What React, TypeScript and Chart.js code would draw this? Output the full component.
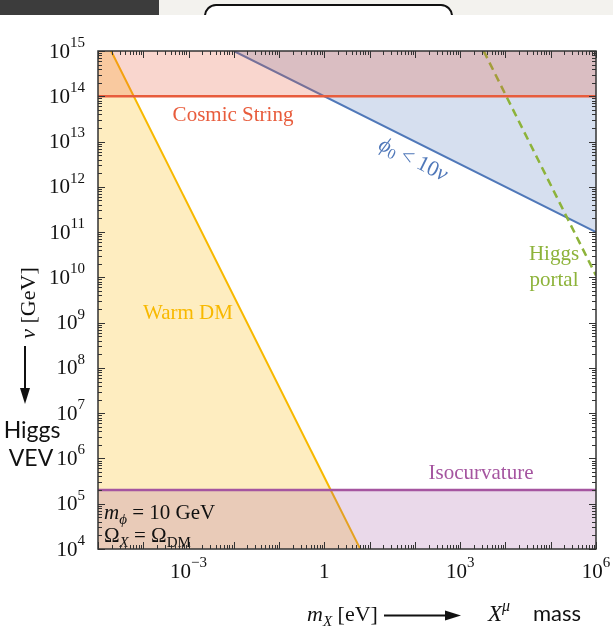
import React, { useEffect, useRef } from 'react';
import { Chart, registerables } from 'chart.js';

Chart.register(...registerables);

// ---- axis ranges & ticks ----
const X_MIN = 1e-5;
const X_MAX = 1e6;
const Y_MIN = 1e4;
const Y_MAX = 1e15;
const xTickValues = [1e-3, 1, 1e3, 1e6];
const xTickBase = ['10', '1', '10', '10'];
const xTickExp = ['−3', '', '3', '6'];
const yTickValues = [1e4, 1e5, 1e6, 1e7, 1e8, 1e9, 1e10, 1e11, 1e12, 1e13, 1e14, 1e15];
const yTickExp = ['4', '5', '6', '7', '8', '9', '10', '11', '12', '13', '14', '15'];

// ---- constraint curves (m_X [eV], v [GeV]) ----
const cosmicStringX = [1e-5, 1e6];
const cosmicStringY = [1e14, 1e14];
const phiBoundX = [1e-2, 1e6];
const phiBoundY = [1e15, 1e11];
const warmDmX = [1e-5, 6.2];
const warmDmY = [3.8e15, 1e4];
const isocurvX = [1e-5, 1e6];
const isocurvY = [2e5, 2e5];
const higgsPortalX = [3.3e3, 1e6];
const higgsPortalY = [1e15, 1.1e10];

const SERIF = '"Liberation Serif", "DejaVu Serif", serif';
const SANS = 'Lato, "Noto Sans", sans-serif';

const pts = (xs: number[], ys: number[]) => xs.map((x, i) => ({ x, y: ys[i] }));

type Seg = { t: string; font: string; dy?: number };

function measureRich(ctx: CanvasRenderingContext2D, segs: Seg[]) {
  let total = 0;
  for (const s of segs) {
    ctx.font = s.font;
    total += ctx.measureText(s.t).width;
  }
  return total;
}

function drawRich(ctx: CanvasRenderingContext2D, segs: Seg[], x: number, y: number, align: 'left' | 'center' | 'right' = 'left') {
  const total = measureRich(ctx, segs);
  let cx = align === 'center' ? x - total / 2 : align === 'right' ? x - total : x;
  ctx.textAlign = 'left';
  for (const s of segs) {
    ctx.font = s.font;
    ctx.fillText(s.t, cx, y + (s.dy || 0));
    cx += ctx.measureText(s.t).width;
  }
}

const powSegs = (base: string, exp: string): Seg[] => {
  const segs: Seg[] = [{ t: base, font: `21px ${SERIF}` }];
  if (exp) segs.push({ t: exp, font: `15px ${SERIF}`, dy: -9 });
  return segs;
};

const annotPlugin = {
  id: 'annot',
  afterDatasetsDraw(chart: any) {
    const ctx: CanvasRenderingContext2D = chart.ctx;
    ctx.save();
    ctx.textBaseline = 'middle';
    ctx.textAlign = 'center';
    ctx.font = `21px ${SERIF}`;
    ctx.fillStyle = 'rgb(232,92,60)';
    ctx.fillText('Cosmic String', 233, 115);
    ctx.fillStyle = 'rgb(248,185,0)';
    ctx.fillText('Warm DM', 188, 313);
    ctx.fillStyle = 'rgb(165,85,160)';
    ctx.fillText('Isocurvature', 481, 473);
    ctx.fillStyle = 'rgb(141,179,58)';
    ctx.fillText('Higgs', 554, 254);
    ctx.fillText('portal', 554, 280);

    // phi_0 < 10 v along blue line
    ctx.save();
    ctx.translate(413, 160);
    ctx.rotate(Math.atan2(182, 366));
    ctx.fillStyle = 'rgb(80,120,185)';
    ctx.textBaseline = 'middle';
    drawRich(ctx, [
      { t: 'ϕ', font: `italic 22px ${SERIF}` },
      { t: '0', font: `15px ${SERIF}`, dy: 5 },
      { t: ' < 10', font: `22px ${SERIF}` },
      { t: 'ν', font: `italic 22px ${SERIF}` },
    ], 0, 0, 'center');
    ctx.restore();

    // parameters
    ctx.fillStyle = '#111';
    ctx.textBaseline = 'alphabetic';
    drawRich(ctx, [
      { t: 'm', font: `italic 21px ${SERIF}` },
      { t: 'ϕ', font: `italic 15px ${SERIF}`, dy: 5 },
      { t: ' = 10 GeV', font: `21px ${SERIF}` },
    ], 104, 519);
    drawRich(ctx, [
      { t: 'Ω', font: `21px ${SERIF}` },
      { t: 'X', font: `italic 15px ${SERIF}`, dy: 5 },
      { t: ' = Ω', font: `21px ${SERIF}` },
      { t: 'DM', font: `15px ${SERIF}`, dy: 5 },
    ], 104, 542);
    ctx.restore();
  },
  afterDraw(chart: any) {
    const ctx: CanvasRenderingContext2D = chart.ctx;
    const { left, right, top, bottom } = chart.chartArea;
    const xs = chart.scales.x;
    const ys = chart.scales.y;
    ctx.save();
    ctx.strokeStyle = '#333';
    ctx.lineWidth = 1;
    ctx.beginPath();
    // frame ticks (top & bottom)
    for (let e = -5; e <= 6; e++) {
      for (let k = 1; k <= 9; k++) {
        const v = k * Math.pow(10, e);
        if (v > X_MAX * 1.0001) continue;
        const px = Math.round(xs.getPixelForValue(v)) + 0.5;
        const len = k === 1 ? 7 : 4;
        ctx.moveTo(px, bottom);
        ctx.lineTo(px, bottom - len);
        ctx.moveTo(px, top);
        ctx.lineTo(px, top + len);
      }
    }
    for (let e = 4; e <= 15; e++) {
      for (let k = 1; k <= 9; k++) {
        const v = k * Math.pow(10, e);
        if (v > Y_MAX * 1.0001) continue;
        const py = Math.round(ys.getPixelForValue(v)) + 0.5;
        const len = k === 1 ? 7 : 4;
        ctx.moveTo(left, py);
        ctx.lineTo(left + len, py);
        ctx.moveTo(right, py);
        ctx.lineTo(right - len, py);
      }
    }
    ctx.stroke();
    ctx.lineWidth = 1.5;
    ctx.strokeRect(left, top, right - left, bottom - top);

    // tick labels
    ctx.fillStyle = '#111';
    ctx.textBaseline = 'middle';
    yTickValues.forEach((v, i) => {
      const py = ys.getPixelForValue(v);
      drawRich(ctx, powSegs('10', yTickExp[i]), left - 13, py + 1, 'right');
    });
    xTickValues.forEach((v, i) => {
      const px = xs.getPixelForValue(v);
      drawRich(ctx, powSegs(xTickBase[i], xTickExp[i]), px, 572, 'center');
    });

    // y axis title
    ctx.fillStyle = '#111';
    ctx.strokeStyle = '#111';
    ctx.save();
    ctx.translate(29, 303);
    ctx.rotate(-Math.PI / 2);
    ctx.textBaseline = 'middle';
    drawRich(ctx, [
      { t: 'ν', font: `italic 22px ${SERIF}` },
      { t: ' [GeV]', font: `22px ${SERIF}` },
    ], 0, 0, 'center');
    ctx.restore();
    // down arrow
    ctx.lineWidth = 2;
    ctx.beginPath();
    ctx.moveTo(25, 346);
    ctx.lineTo(25, 392);
    ctx.stroke();
    ctx.beginPath();
    ctx.moveTo(25, 404);
    ctx.lineTo(20, 388);
    ctx.lineTo(30, 388);
    ctx.closePath();
    ctx.fill();
    ctx.textBaseline = 'alphabetic';
    ctx.textAlign = 'center';
    ctx.font = `23px ${SANS}`;
    ctx.fillText('Higgs', 32, 438);
    ctx.fillText('VEV', 31, 466);

    // x axis title
    drawRich(ctx, [
      { t: 'm', font: `italic 22px ${SERIF}` },
      { t: 'X', font: `italic 15px ${SERIF}`, dy: 5 },
      { t: ' [eV]', font: `22px ${SERIF}` },
    ], 307, 621);
    ctx.beginPath();
    ctx.moveTo(384, 615.5);
    ctx.lineTo(448, 615.5);
    ctx.stroke();
    ctx.beginPath();
    ctx.moveTo(461, 615.5);
    ctx.lineTo(445, 610.5);
    ctx.lineTo(445, 620.5);
    ctx.closePath();
    ctx.fill();
    drawRich(ctx, [
      { t: 'X', font: `italic 23px ${SERIF}` },
      { t: 'μ', font: `italic 16px ${SERIF}`, dy: -10 },
    ], 488, 621);
    ctx.textAlign = 'left';
    ctx.font = `22px ${SANS}`;
    ctx.fillText('mass', 533, 621);
    ctx.restore();
  },
};

export default function App() {
  const ref = useRef<HTMLCanvasElement | null>(null);
  useEffect(() => {
    if (!ref.current) return;
    const zeroPad = (s: any) => {
      s.paddingLeft = 0;
      s.paddingRight = 0;
      s.paddingTop = 0;
      s.paddingBottom = 0;
    };
    const chart = new Chart(ref.current, {
      type: 'line',
      data: {
        datasets: [
          {
            label: 'Cosmic String',
            data: pts(cosmicStringX, cosmicStringY),
            borderColor: 'rgb(232,92,60)',
            backgroundColor: 'rgba(232,90,60,0.25)',
            borderWidth: 2.5,
            fill: 'end',
            pointRadius: 0,
          },
          {
            label: 'Higgs portal',
            data: pts(higgsPortalX, higgsPortalY),
            borderColor: 'rgb(141,179,58)',
            borderWidth: 2.5,
            borderDash: [8, 5],
            fill: false,
            pointRadius: 0,
          },
          {
            label: 'phi0 < 10 v',
            data: pts(phiBoundX, phiBoundY),
            borderColor: 'rgb(80,120,185)',
            backgroundColor: 'rgba(70,110,180,0.22)',
            borderWidth: 2,
            fill: 'end',
            pointRadius: 0,
          },
          {
            label: 'Isocurvature',
            data: pts(isocurvX, isocurvY),
            borderColor: 'rgb(165,85,160)',
            backgroundColor: 'rgba(160,80,160,0.22)',
            borderWidth: 2.5,
            fill: 'start',
            pointRadius: 0,
          },
          {
            label: 'Warm DM',
            data: pts(warmDmX, warmDmY),
            borderColor: 'rgb(248,185,0)',
            backgroundColor: 'rgba(251,195,45,0.3)',
            borderWidth: 2,
            fill: 'start',
            pointRadius: 0,
          },
        ],
      },
      options: {
        animation: false,
        responsive: false,
        devicePixelRatio: 1,
        layout: { padding: { top: 51, right: 17, left: 0, bottom: 0 } },
        plugins: { legend: { display: false }, tooltip: { enabled: false } },
        scales: {
          x: {
            type: 'logarithmic',
            min: X_MIN,
            max: X_MAX,
            grid: { display: false, drawTicks: false },
            border: { display: false },
            afterBuildTicks: (s: any) => {
              s.ticks = xTickValues.map((v) => ({ value: v }));
            },
            afterFit: (s: any) => {
              s.height = 89;
              zeroPad(s);
            },
            ticks: { display: false },
          },
          y: {
            type: 'logarithmic',
            min: Y_MIN,
            max: Y_MAX,
            grid: { display: false, drawTicks: false },
            border: { display: false },
            afterBuildTicks: (s: any) => {
              s.ticks = yTickValues.map((v) => ({ value: v }));
            },
            afterFit: (s: any) => {
              s.width = 98;
              zeroPad(s);
            },
            ticks: { display: false },
          },
        },
      },
      plugins: [annotPlugin],
    } as any);
    return () => chart.destroy();
  }, []);

  return (
    <div style={{ position: 'absolute', left: 0, top: 0, width: 613, height: 638, background: '#fff', overflow: 'hidden' }}>
      <canvas ref={ref} width={613} height={638} style={{ position: 'absolute', left: 0, top: 0 }} />
      <div style={{ position: 'absolute', left: 0, top: 0, width: 613, height: 15, overflow: 'hidden', background: '#f3f2ee' }}>
        <div style={{ position: 'absolute', left: 0, top: 0, width: 159, height: 15, background: '#3c3c3c' }} />
        <div
          style={{
            position: 'absolute',
            left: 204,
            top: 4,
            width: 245,
            height: 40,
            border: '2px solid #111',
            borderRadius: 12,
            background: '#fff',
          }}
        />
      </div>
    </div>
  );
}
